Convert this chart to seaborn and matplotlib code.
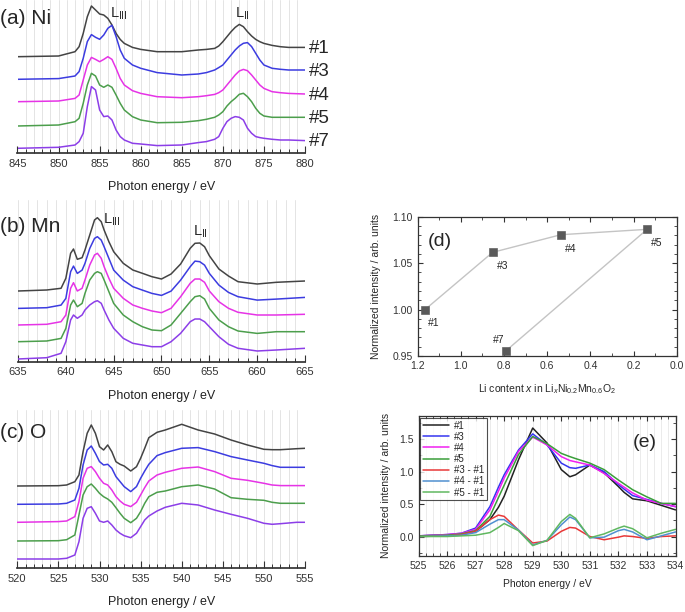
import matplotlib
matplotlib.use("Agg")
import matplotlib.pyplot as plt
import numpy as np
import pandas as pd
import seaborn as sns
from matplotlib.ticker import MultipleLocator

# ---- data ----------------------------------------------------------------

SAMPLES = ["#1", "#3", "#4", "#5", "#7"]

# (a) Ni L-edge (curves relative to their own pre-edge, arb. units)
NI_ENERGY = [845, 850, 852, 852.5, 853, 853.5, 854, 854.5, 855, 855.5, 856, 856.5,
             857, 857.5, 858, 859, 860, 862, 865, 867, 868, 869, 869.5, 870, 870.5,
             871, 871.5, 872, 872.5, 873, 873.5, 874, 874.5, 875, 876, 877, 878, 880]
NI_1 = [0, 0.07, 0.5, 1.0, 2.33, 4.0, 5.07, 4.67, 4.27, 4.17, 3.83, 3.17, 2.33, 1.73,
        1.33, 0.93, 0.73, 0.5, 0.5, 0.67, 0.73, 0.83, 1.07, 1.5, 2.0, 2.5, 2.93, 3.23,
        3.0, 2.5, 2.07, 1.73, 1.5, 1.33, 1.13, 1.0, 0.93, 0.93]
NI_3 = [0, 0.07, 0.33, 0.77, 2.1, 3.77, 4.47, 4.2, 4.0, 4.43, 5.1, 5.4, 4.27, 2.93,
        2.1, 1.43, 1.1, 0.67, 0.43, 0.53, 0.67, 0.93, 1.17, 1.43, 1.93, 2.43, 2.93,
        3.33, 3.6, 3.67, 3.27, 2.6, 1.93, 1.43, 1.1, 1.0, 0.93, 0.93]
NI_4 = [0, 0.07, 0.33, 0.67, 2.17, 3.67, 4.43, 4.23, 4.0, 4.23, 4.5, 4.23, 3.33, 2.33,
        1.67, 1.1, 0.83, 0.5, 0.4, 0.5, 0.6, 0.73, 0.9, 1.17, 1.67, 2.17, 2.67, 3.07,
        3.23, 3.1, 2.67, 2.17, 1.67, 1.33, 1.0, 0.9, 0.83, 0.77]
NI_5 = [0, 0.1, 0.43, 0.77, 2.27, 4.1, 5.27, 5.0, 4.1, 3.87, 4.1, 3.87, 3.1, 2.27,
        1.6, 0.93, 0.6, 0.33, 0.37, 0.53, 0.67, 0.87, 1.1, 1.43, 2.0, 2.43, 2.77,
        3.17, 3.27, 2.93, 2.43, 1.77, 1.27, 1.0, 0.87, 0.87, 0.87, 0.87]
NI_7 = [0, 0.1, 0.33, 0.67, 1.5, 4.17, 6.17, 5.83, 3.83, 3.17, 3.23, 2.83, 1.83, 1.17,
        0.83, 0.5, 0.43, 0.27, 0.33, 0.57, 0.67, 0.9, 1.17, 2.0, 2.67, 3.0, 3.17, 3.1,
        2.83, 2.0, 1.5, 1.17, 1.07, 1.0, 0.9, 0.83, 0.83, 0.77]
NI_OFFSETS = [9.63, 7.37, 5.13, 2.7, 0.47]

# (b) Mn L-edge
MN_ENERGY = [635, 638, 639.5, 640, 640.5, 640.8, 641.2, 641.7, 642, 642.5, 643, 643.3,
             643.7, 644, 644.5, 645, 646, 647, 648, 649, 650, 651, 652, 653, 653.5,
             654, 654.5, 655, 656, 657, 658, 660, 662, 665]
MN_1 = [0, 0.1, 0.27, 1.27, 3.77, 4.2, 3.17, 3.33, 4.1, 5.6, 7.1, 7.33, 6.93, 6.1,
        4.93, 3.93, 2.77, 2.1, 1.77, 1.43, 1.2, 1.7, 2.7, 4.27, 4.77, 4.8, 4.43, 3.53,
        2.2, 1.5, 0.93, 0.7, 0.87, 1.0]
MN_3 = [0, 0.07, 0.33, 1.0, 3.67, 4.23, 3.5, 3.83, 4.5, 6.0, 7.0, 7.17, 6.83, 6.17,
        5.0, 3.83, 2.83, 2.17, 1.83, 1.5, 1.3, 1.73, 2.83, 4.17, 4.73, 4.67, 4.33, 3.5,
        2.33, 1.6, 1.17, 0.83, 0.93, 1.1]
MN_4 = [0, 0.07, 0.33, 1.0, 3.67, 4.23, 3.4, 3.67, 4.5, 6.0, 7.0, 7.17, 6.67, 5.83,
        4.67, 3.67, 2.67, 2.0, 1.67, 1.4, 1.23, 1.67, 2.83, 4.17, 4.6, 4.6, 4.27, 3.4,
        2.33, 1.67, 1.27, 1.0, 1.0, 1.07]
MN_5 = [0, 0.07, 0.33, 1.33, 3.67, 4.17, 3.5, 3.83, 4.83, 6.17, 6.83, 7.0, 6.83, 6.17,
        5.0, 3.83, 2.67, 2.0, 1.5, 1.17, 1.1, 1.67, 2.83, 4.0, 4.5, 4.6, 4.27, 3.33,
        2.17, 1.5, 1.07, 0.83, 1.0, 1.0]
MN_7 = [0, 0.13, 0.57, 1.73, 3.9, 4.4, 4.07, 4.4, 4.9, 5.4, 5.73, 5.83, 5.57, 4.9,
        3.9, 3.07, 2.07, 1.57, 1.4, 1.23, 1.23, 1.73, 2.57, 3.73, 4.0, 4.0, 3.73, 3.23,
        2.23, 1.47, 1.07, 0.8, 0.9, 1.07]
MN_OFFSETS = [7.07, 5.33, 3.67, 2.0, 0.27]

# (c) O K-edge
O_ENERGY = [520, 525, 526, 527, 527.5, 528, 528.5, 529, 529.5, 530, 530.5, 531, 531.5,
            532, 532.5, 533, 533.8, 534.5, 535, 535.5, 536, 537, 538, 540, 542, 544,
            546, 548, 550, 551, 552, 554, 555]
O_1 = [0, 0.03, 0.1, 0.43, 1.1, 3.43, 5.27, 6.1, 5.27, 3.93, 3.6, 4.1, 3.43, 2.43,
       2.17, 2.0, 1.5, 1.93, 2.77, 3.77, 4.83, 5.37, 5.6, 6.17, 5.6, 5.2, 4.6, 4.1,
       3.67, 3.63, 3.63, 3.73, 3.77]
O_3 = [0, 0.03, 0.1, 0.43, 1.6, 3.93, 5.43, 5.83, 5.1, 4.27, 3.93, 4.0, 3.6, 2.77,
       2.27, 1.77, 1.27, 1.77, 2.6, 3.33, 4.0, 4.87, 5.17, 5.6, 5.67, 5.27, 4.77, 4.43,
       4.1, 3.87, 3.7, 3.7, 3.7]
O_4 = [0, 0.07, 0.13, 0.57, 2.07, 4.4, 5.4, 5.57, 5.07, 4.4, 3.9, 3.73, 3.23, 2.57,
       2.13, 1.8, 1.57, 2.0, 2.73, 3.47, 4.13, 4.73, 5.0, 5.4, 5.53, 5.07, 4.4, 4.2,
       3.9, 3.73, 3.67, 3.67, 3.67]
O_5 = [0, 0.03, 0.13, 0.6, 2.6, 4.6, 5.43, 5.7, 5.27, 4.77, 4.43, 4.2, 3.87, 3.33,
       2.77, 2.27, 1.83, 2.27, 2.93, 3.77, 4.43, 4.87, 5.0, 5.43, 5.6, 5.2, 4.33, 4.17,
       4.07, 3.87, 3.77, 3.77, 3.77]
O_7 = [0, 0, 0.07, 0.4, 1.73, 4.07, 5.07, 5.23, 4.57, 3.8, 3.67, 3.8, 3.4, 2.9, 2.57,
       2.33, 2.13, 2.57, 3.23, 3.9, 4.3, 4.8, 5.17, 5.57, 5.4, 4.9, 4.47, 4.07, 3.57,
       3.47, 3.53, 3.67, 3.67]
O_OFFSETS = [8.23, 6.4, 4.6, 2.73, 0.93]

# (d) normalized intensity vs Li content
D_LABELS = ["#1", "#3", "#4", "#5", "#7"]
D_LI = [1.166, 0.853, 0.537, 0.137, 0.792]
D_INT = [1.000, 1.0616, 1.0806, 1.0864, 0.9554]

# (e) O K pre-edge, normalized
E_ENERGY = [525, 526, 526.5, 527, 527.5, 527.8, 528, 528.5, 529, 529.5, 530, 530.3,
            530.5, 531, 531.5, 532, 532.2, 532.5, 533, 533.5, 534]
E_1 = [0.01, 0.02, 0.04, 0.08, 0.26, 0.45, 0.62, 1.18, 1.67, 1.44, 1.03, 0.92, 0.95,
       1.1, 0.98, 0.77, 0.68, 0.58, 0.55, 0.48, 0.41]
E_3 = [0.01, 0.03, 0.05, 0.13, 0.46, 0.76, 0.95, 1.33, 1.58, 1.41, 1.13, 1.06, 1.05,
       1.1, 1.0, 0.8, 0.73, 0.63, 0.57, 0.51, 0.46]
E_4 = [0.01, 0.03, 0.05, 0.11, 0.41, 0.7, 0.9, 1.31, 1.53, 1.41, 1.23, 1.17, 1.15,
       1.1, 0.97, 0.82, 0.76, 0.67, 0.56, 0.51, 0.46]
E_5 = [0.01, 0.02, 0.04, 0.09, 0.31, 0.6, 0.79, 1.26, 1.54, 1.43, 1.28, 1.23, 1.2,
       1.13, 1.03, 0.87, 0.81, 0.72, 0.61, 0.51, 0.51]
E_3M1 = [0.0, 0.01, 0.03, 0.08, 0.26, 0.33, 0.31, 0.1, -0.1, -0.07, 0.08, 0.14, 0.13,
         0.0, -0.05, -0.01, 0.01, 0.0, -0.03, 0.0, 0.01]
E_4M1 = [0.0, 0.01, 0.02, 0.06, 0.19, 0.26, 0.26, 0.1, -0.13, -0.06, 0.18, 0.3, 0.26,
         -0.02, -0.01, 0.09, 0.11, 0.07, -0.05, 0.01, 0.07]
E_5M1 = [0.0, 0.0, 0.01, 0.02, 0.06, 0.14, 0.2, 0.09, -0.14, -0.06, 0.23, 0.34, 0.28,
         -0.02, 0.04, 0.13, 0.16, 0.12, -0.02, 0.05, 0.11]
E_NAMES = ["#1", "#3", "#4", "#5", "#3 - #1", "#4 - #1", "#5 - #1"]

# ---- styling ---------------------------------------------------------------

STACK_COLORS = ["#444444", "#3c3ce0", "#e633e6", "#4c9e4c", "#8c3ee8"]
E_COLORS = ["#222222", "#3535f0", "#f020f0", "#3a9e3a", "#e83838", "#5090d0", "#60b860"]

sns.set_theme(style="ticks")
plt.rcParams["font.family"] = ["Liberation Sans", "DejaVu Sans"]
plt.rcParams["mathtext.fontset"] = "custom"
plt.rcParams["mathtext.rm"] = "Liberation Sans"
plt.rcParams["mathtext.it"] = "Liberation Sans:italic"

W, H = 685, 612


def px_axes(fig, left, top, right, bottom):
    return fig.add_axes([left / W, 1 - bottom / H, (right - left) / W, (bottom - top) / H])


def stack_frame(energy, curves, offsets):
    rows = []
    for name, vals, off in zip(SAMPLES, curves, offsets):
        for e, v in zip(energy, vals):
            rows.append({"energy": e, "intensity": v + off, "sample": name})
    return pd.DataFrame(rows)


def draw_stack(ax, energy, curves, offsets, xlim, ytop):
    df = stack_frame(energy, curves, offsets)
    sns.lineplot(data=df, x="energy", y="intensity", hue="sample",
                 palette=dict(zip(SAMPLES, STACK_COLORS)), estimator=None,
                 sort=False, lw=1.1, legend=False, ax=ax)
    ax.set_xlim(*xlim)
    ax.set_ylim(0, ytop)
    ax.xaxis.set_major_locator(MultipleLocator(5))
    ax.xaxis.set_minor_locator(MultipleLocator(1))
    ax.grid(True, which="both", axis="x", color="#e4e4e4", lw=0.7)
    ax.set_axisbelow(True)
    for s in ["left", "top", "right"]:
        ax.spines[s].set_visible(False)
    ax.spines["bottom"].set_color("#333333")
    ax.set_yticks([])
    ax.set_ylabel("")
    ax.tick_params(axis="x", which="major", direction="in", length=5, width=0.8,
                   labelsize=8, pad=4, colors="#333333")
    ax.tick_params(axis="x", which="minor", direction="in", length=3, width=0.7,
                   colors="#333333")
    ax.set_xlabel("Photon energy / eV", fontsize=9, labelpad=9, color="#222222")
    return df


fig = plt.figure(figsize=(W / 100, H / 100), dpi=100)

# (a) Ni
ax_a = px_axes(fig, 17.5, 0, 305, 153)
draw_stack(ax_a, NI_ENERGY, [NI_1, NI_3, NI_4, NI_5, NI_7], NI_OFFSETS, (845, 880), 15.3)
for name, vals, off in zip(SAMPLES, [NI_1, NI_3, NI_4, NI_5, NI_7], NI_OFFSETS):
    ax_a.annotate(name, xy=(880, vals[-1] + off), xytext=(3, -1),
                  textcoords="offset points", va="center", ha="left",
                  fontsize=13.5, annotation_clip=False)
ax_a.text(856.2, 13.9, r"L$_{\mathregular{III}}$", fontsize=10.5, va="center")
ax_a.text(871.5, 13.9, r"L$_{\mathregular{II}}$", fontsize=10.5, va="center")
fig.text(0 / W, 1 - 18 / H, "(a) Ni", fontsize=15, va="center", ha="left")

# (b) Mn
ax_b = px_axes(fig, 18, 200, 305, 361.7)
draw_stack(ax_b, MN_ENERGY, [MN_1, MN_3, MN_4, MN_5, MN_7], MN_OFFSETS, (635, 665), 16.17)
ax_b.text(643.9, 14.2, r"L$_{\mathregular{III}}$", fontsize=10.5, va="center")
ax_b.text(653.3, 13.0, r"L$_{\mathregular{II}}$", fontsize=10.5, va="center")
fig.text(0 / W, 1 - 227 / H, "(b) Mn", fontsize=15, va="center", ha="left")

# (c) O
ax_c = px_axes(fig, 17.3, 410, 305, 568.3)
draw_stack(ax_c, O_ENERGY, [O_1, O_3, O_4, O_5, O_7], O_OFFSETS, (520, 555), 15.83)
fig.text(0 / W, 1 - 433 / H, "(c) O", fontsize=15, va="center", ha="left")

# (d) intensity vs Li content
ax_d = px_axes(fig, 417.7, 216.7, 676.7, 356)
d_df = pd.DataFrame({"li": D_LI, "intensity": D_INT, "label": D_LABELS})
sns.lineplot(data=d_df, x="li", y="intensity", sort=False, estimator=None,
             color="#c4c4c4", lw=1.0, ax=ax_d)
sns.scatterplot(data=d_df, x="li", y="intensity", marker="s", s=30,
                color="#5a5a5a", edgecolor="#5a5a5a", zorder=3, ax=ax_d)
label_shift = {"#1": (2, -10), "#3": (3, -10), "#4": (3, -10), "#5": (3, -10), "#7": (-9, 8)}
for _, r in d_df.iterrows():
    ax_d.annotate(r["label"], xy=(r["li"], r["intensity"]),
                  xytext=label_shift[r["label"]], textcoords="offset points",
                  fontsize=7.5, ha="left", va="center")
ax_d.set_xlim(1.2, 0.0)
ax_d.set_ylim(0.95, 1.10)
ax_d.xaxis.set_major_locator(MultipleLocator(0.2))
ax_d.xaxis.set_minor_locator(MultipleLocator(0.1))
ax_d.yaxis.set_major_locator(MultipleLocator(0.05))
ax_d.yaxis.set_minor_locator(MultipleLocator(0.01))
ax_d.set_xticklabels([f"{t:.1f}" for t in ax_d.get_xticks()])
ax_d.set_yticklabels([f"{t:.2f}" for t in ax_d.get_yticks()])
ax_d.text(0.04, 0.82, "(d)", transform=ax_d.transAxes, fontsize=14, va="center")
ax_d.set_xlabel(r"Li content $\it{x}$ in Li$_{\it{x}}$Ni$_{0.2}$Mn$_{0.6}$O$_2$",
                fontsize=7.5, labelpad=8)
ax_d.set_ylabel("Normalized intensity / arb. units", fontsize=7.5, labelpad=8)

# (e) O K pre-edge comparison
ax_e = px_axes(fig, 418.5, 415.7, 675.5, 556)
e_curves = [E_1, E_3, E_4, E_5, E_3M1, E_4M1, E_5M1]
e_rows = []
for name, vals in zip(E_NAMES, e_curves):
    for e, v in zip(E_ENERGY, vals):
        e_rows.append({"energy": e, "intensity": v, "curve": name})
e_df = pd.DataFrame(e_rows)
sns.lineplot(data=e_df, x="energy", y="intensity", hue="curve", hue_order=E_NAMES,
             palette=dict(zip(E_NAMES, E_COLORS)), estimator=None, sort=False,
             lw=1.1, ax=ax_e)
ax_e.set_xlim(525, 534)
ax_e.set_ylim(-0.3, 1.86)
ax_e.xaxis.set_major_locator(MultipleLocator(1))
ax_e.xaxis.set_minor_locator(MultipleLocator(0.25))
ax_e.yaxis.set_major_locator(MultipleLocator(0.5))
ax_e.yaxis.set_minor_locator(MultipleLocator(0.25))
ax_e.grid(True, which="both", axis="x", color="#e8e8e8", lw=0.6)
ax_e.set_axisbelow(True)
ax_e.set_yticks([0.0, 0.5, 1.0, 1.5])
ax_e.set_yticklabels(["0.0", "0.5", "1.0", "1.5"])
ax_e.text(0.88, 0.81, "(e)", transform=ax_e.transAxes, fontsize=14, va="center", ha="center")
ax_e.set_xlabel("Photon energy / eV", fontsize=7.5, labelpad=6)
ax_e.set_ylabel("Normalized intensity / arb. units", fontsize=7.5, labelpad=6)
leg = ax_e.legend(loc="upper left", fontsize=7, frameon=True, fancybox=False,
                  handlelength=2.6, borderpad=0.3, labelspacing=0.12,
                  handletextpad=0.5, borderaxespad=0.2, title=None)
leg.get_frame().set_edgecolor("#222222")
leg.get_frame().set_linewidth(0.8)

for ax in (ax_d, ax_e):
    for s in ax.spines.values():
        s.set_color("#333333")
        s.set_linewidth(0.9)
    ax.tick_params(which="both", direction="in", top=True, right=True,
                   labelsize=7.5, colors="#333333")
    ax.tick_params(which="major", length=3.5, width=0.8)
    ax.tick_params(which="minor", length=2, width=0.6)

fig.savefig("out.png", dpi=100)
